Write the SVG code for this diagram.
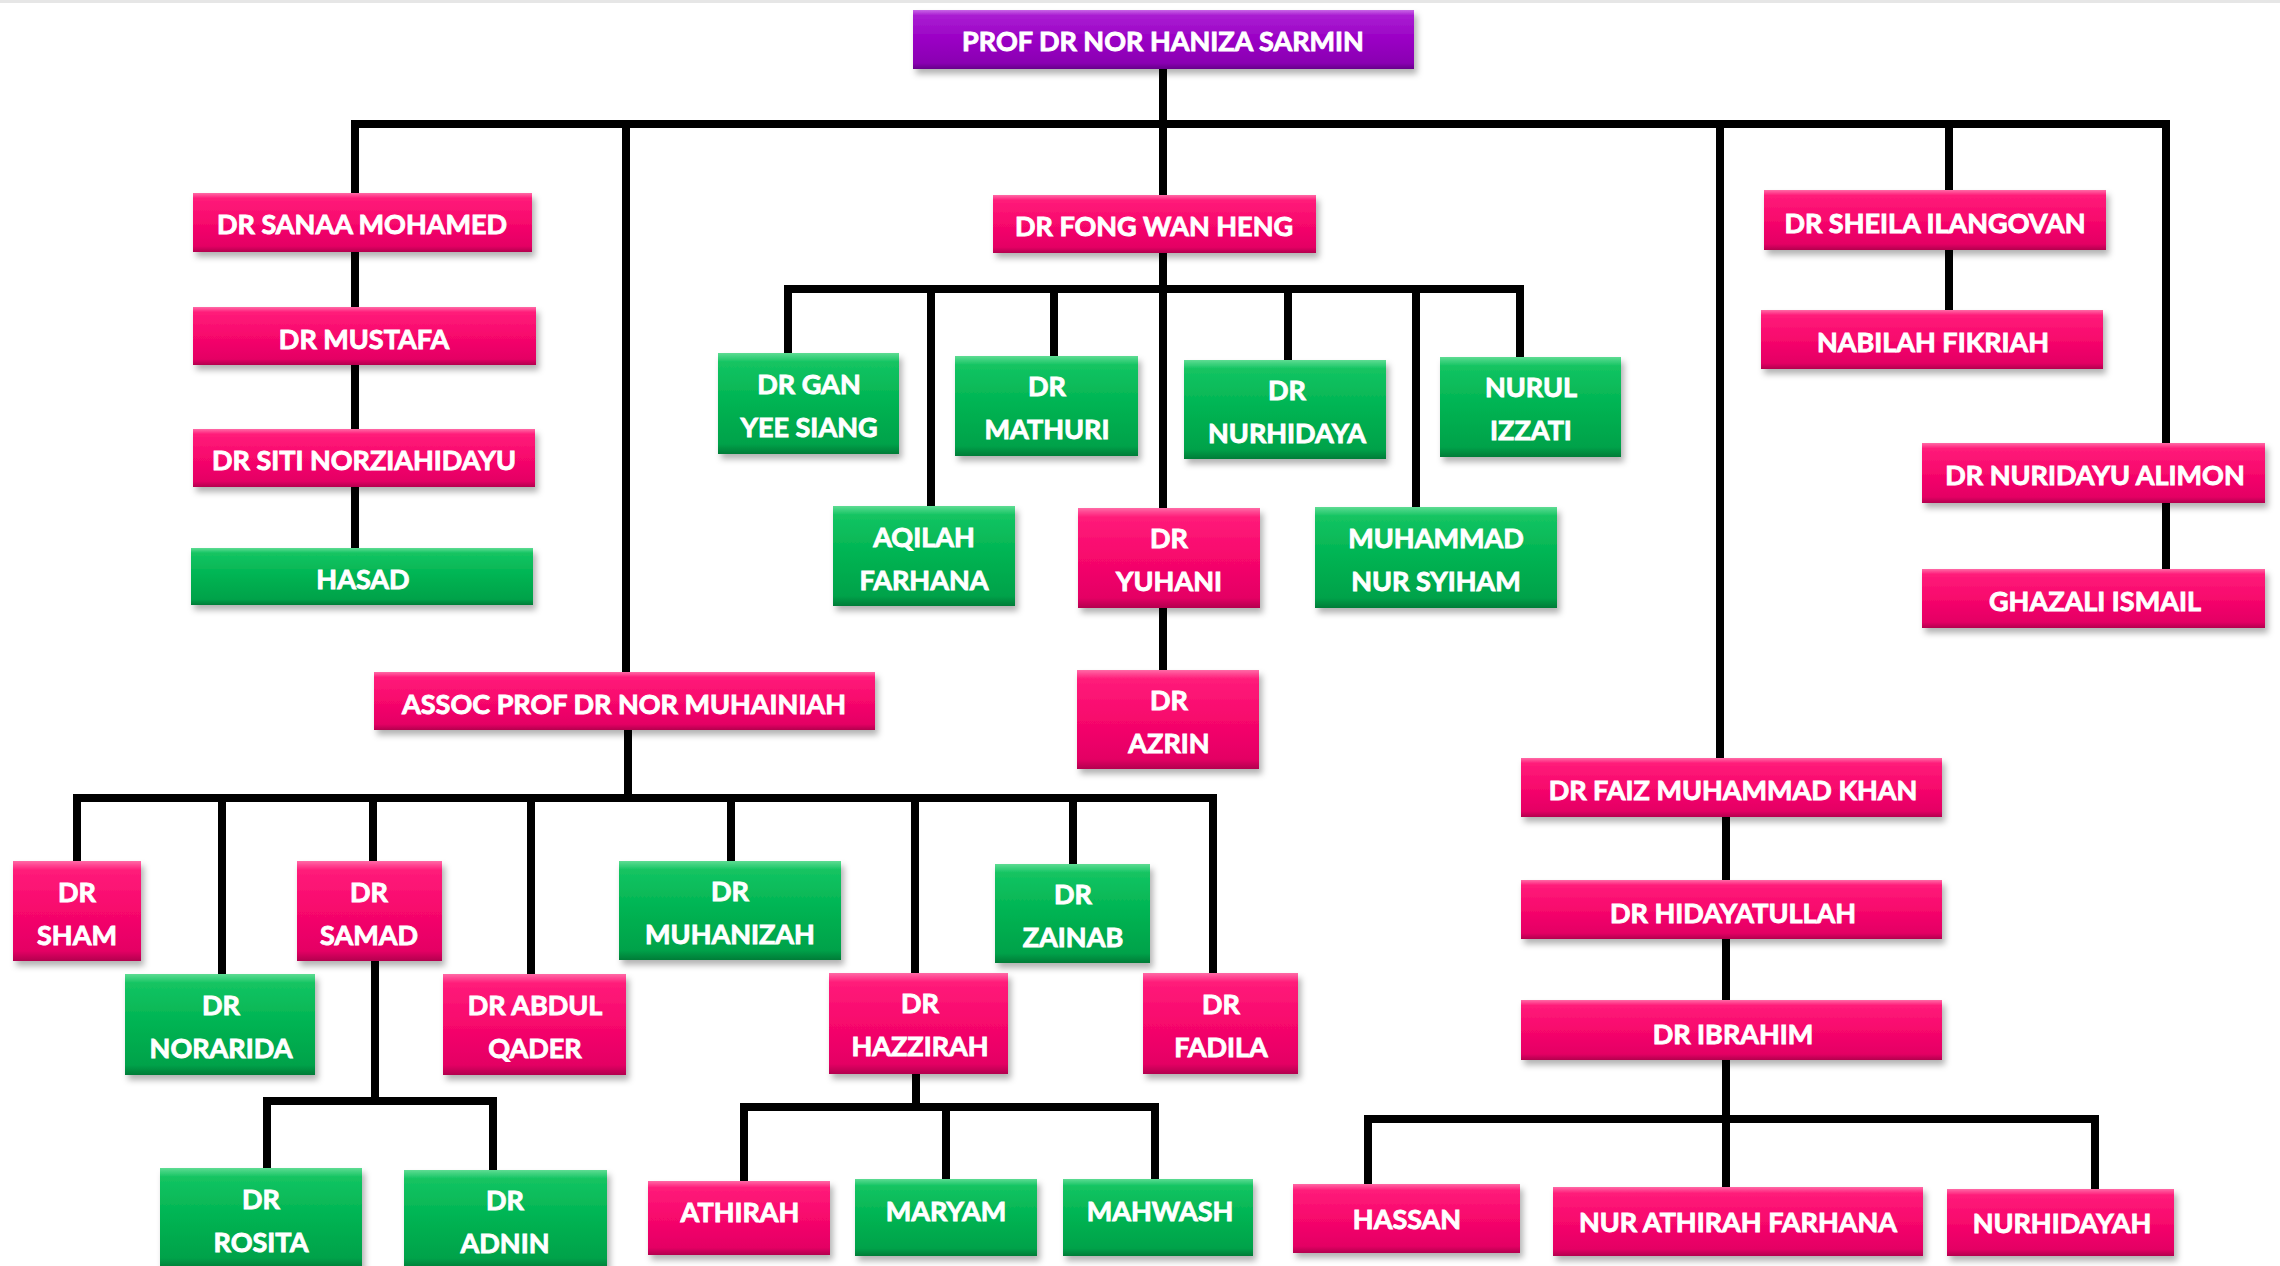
<svg xmlns="http://www.w3.org/2000/svg" width="2280" height="1266" viewBox="0 0 2280 1266">
<defs>
<linearGradient id="gPink" x1="0" y1="0" x2="0" y2="1">
<stop offset="0" stop-color="#ff6aa6"/><stop offset="0.09" stop-color="#ff1c7a"/><stop offset="0.5" stop-color="#f7076c"/><stop offset="0.9" stop-color="#e40064"/><stop offset="1" stop-color="#b3004e"/>
</linearGradient>
<linearGradient id="gGreen" x1="0" y1="0" x2="0" y2="1">
<stop offset="0" stop-color="#5edc93"/><stop offset="0.09" stop-color="#14c462"/><stop offset="0.5" stop-color="#00b352"/><stop offset="0.9" stop-color="#00a24a"/><stop offset="1" stop-color="#007c37"/>
</linearGradient>
<linearGradient id="gPurple" x1="0" y1="0" x2="0" y2="1">
<stop offset="0" stop-color="#c866e6"/><stop offset="0.09" stop-color="#aa1ed2"/><stop offset="0.5" stop-color="#9a00c4"/><stop offset="0.9" stop-color="#8a00b2"/><stop offset="1" stop-color="#66008a"/>
</linearGradient>
<filter id="sh" x="-10%" y="-20%" width="120%" height="160%">
<feDropShadow dx="3" dy="5" stdDeviation="3" flood-color="#000" flood-opacity="0.3"/>
</filter>
</defs>
<style>
.pink{fill:url(#gPink);filter:url(#sh)}
.green{fill:url(#gGreen);filter:url(#sh)}
.purple{fill:url(#gPurple);filter:url(#sh)}
.t{font-family:Lato,"Liberation Sans",sans-serif;font-weight:bold;font-size:27px;fill:#fff;stroke:#fff;stroke-width:0.9px;text-anchor:middle}
.s{transform:translateY(2px)}
</style>
<rect x="0" y="0" width="2280" height="1266" fill="#ffffff"/>
<rect x="0" y="0" width="2280" height="3" fill="#e6e6e6"/>

<g id="connectors" fill="none" stroke="#000" stroke-width="8">
<path d="M1163,68 V195"/>
<path d="M355,193 V124 H2166 V443"/>
<path d="M626,124 V672"/>
<path d="M1720,124 V758"/>
<path d="M1949,124 V190"/>
<path d="M1949,250 V310"/>
<path d="M2166,503 V569"/>
<path d="M355,252 V307 M355,365 V429 M355,487 V548"/>
<path d="M1163,253 V508"/>
<path d="M1163,608 V670"/>
<path d="M788,353 V289 H1520 V357"/>
<path d="M931,289 V506 M1054,289 V356 M1288,289 V360 M1416,289 V507"/>
<path d="M628,730 V798"/>
<path d="M77,861 V798 H1213 V973"/>
<path d="M222,798 V974 M373,798 V861 M531,798 V974 M731,798 V861 M915,798 V973 M1073,798 V864"/>
<path d="M375,961 V1101"/>
<path d="M267,1168 V1101 H493 V1170"/>
<path d="M916,1073 V1107"/>
<path d="M744,1181 V1107 H1155 V1179 M946,1107 V1179"/>
<path d="M1726,817 V880 M1726,939 V1000 M1726,1060 V1187"/>
<path d="M1368,1184 V1119 H2095 V1189"/>
</g>

<g id="root"><rect class="purple" x="913" y="10" width="501" height="59"/><text class="t" x="1163" y="51">PROF DR NOR HANIZA SARMIN</text></g>

<g id="sanaa"><rect class="pink" x="193" y="193" width="339" height="59"/><text class="t" x="362" y="234">DR SANAA MOHAMED</text></g>
<g id="mustafa"><rect class="pink" x="193" y="307" width="343" height="58"/><text class="t" x="364" y="349">DR MUSTAFA</text></g>
<g id="siti"><rect class="pink" x="193" y="429" width="342" height="58"/><text class="t" x="364" y="470">DR SITI NORZIAHIDAYU</text></g>
<g id="hasad"><rect class="green" x="191" y="548" width="342" height="57"/><text class="t" x="363" y="589">HASAD</text></g>

<g id="fong"><rect class="pink" x="993" y="195" width="323" height="58"/><text class="t" x="1154" y="236">DR FONG WAN HENG</text></g>
<g id="gan"><rect class="green" x="718" y="353" width="181" height="101"/><text class="t" x="809" y="394">DR GAN</text><text class="t" x="809" y="437">YEE SIANG</text></g>
<g id="mathuri"><rect class="green" x="955" y="356" width="183" height="100"/><text class="t" x="1047" y="396">DR</text><text class="t" x="1047" y="439">MATHURI</text></g>
<g id="nurhidaya"><rect class="green" x="1184" y="360" width="202" height="99"/><text class="t" x="1287" y="400">DR</text><text class="t" x="1287" y="443">NURHIDAYA</text></g>
<g id="nurul"><rect class="green" x="1440" y="357" width="181" height="100"/><text class="t" x="1531" y="397">NURUL</text><text class="t" x="1531" y="440">IZZATI</text></g>
<g id="aqilah"><rect class="green" x="833" y="506" width="182" height="100"/><text class="t" x="924" y="547">AQILAH</text><text class="t" x="924" y="590">FARHANA</text></g>
<g id="yuhani"><rect class="pink" x="1078" y="508" width="182" height="100"/><text class="t" x="1169" y="548">DR</text><text class="t" x="1169" y="591">YUHANI</text></g>
<g id="muhammad"><rect class="green" x="1315" y="507" width="242" height="101"/><text class="t" x="1436" y="548">MUHAMMAD</text><text class="t" x="1436" y="591">NUR SYIHAM</text></g>
<g id="azrin"><rect class="pink" x="1077" y="670" width="182" height="99"/><text class="t" x="1169" y="710">DR</text><text class="t" x="1169" y="753">AZRIN</text></g>

<g id="sheila"><rect class="pink" x="1764" y="190" width="342" height="60"/><text class="t" x="1935" y="233">DR SHEILA ILANGOVAN</text></g>
<g id="nabilah"><rect class="pink" x="1761" y="310" width="342" height="59"/><text class="t" x="1933" y="352">NABILAH FIKRIAH</text></g>
<g id="nuridayu"><rect class="pink" x="1922" y="443" width="343" height="60"/><text class="t" x="2095" y="485">DR NURIDAYU ALIMON</text></g>
<g id="ghazali"><rect class="pink" x="1922" y="569" width="343" height="59"/><text class="t" x="2095" y="611">GHAZALI ISMAIL</text></g>

<g id="faiz"><rect class="pink" x="1521" y="758" width="421" height="59"/><text class="t" x="1733" y="800">DR FAIZ MUHAMMAD KHAN</text></g>
<g id="hidayatullah"><rect class="pink" x="1521" y="880" width="421" height="59"/><text class="t" x="1733" y="923">DR HIDAYATULLAH</text></g>
<g id="ibrahim"><rect class="pink" x="1521" y="1000" width="421" height="60"/><text class="t" x="1733" y="1044">DR IBRAHIM</text></g>
<g id="hassan"><rect class="pink" x="1293" y="1184" width="227" height="69"/><text class="t" x="1407" y="1229">HASSAN</text></g>
<g id="nurathirah"><rect class="pink" x="1553" y="1187" width="370" height="69"/><text class="t" x="1738" y="1232">NUR ATHIRAH FARHANA</text></g>
<g id="nurhidayah"><rect class="pink" x="1947" y="1189" width="227" height="67"/><text class="t" x="2062" y="1233">NURHIDAYAH</text></g>

<g id="muhainiah"><rect class="pink" x="374" y="672" width="501" height="58"/><text class="t" x="624" y="714">ASSOC PROF DR NOR MUHAINIAH</text></g>
<g id="sham"><rect class="pink" x="13" y="861" width="128" height="100"/><text class="t" x="77" y="902">DR</text><text class="t" x="77" y="945">SHAM</text></g>
<g id="samad"><rect class="pink" x="297" y="861" width="145" height="100"/><text class="t" x="369" y="902">DR</text><text class="t" x="369" y="945">SAMAD</text></g>
<g id="norarida"><rect class="green" x="125" y="974" width="190" height="101"/><text class="t" x="221" y="1015">DR</text><text class="t" x="221" y="1058">NORARIDA</text></g>
<g id="abdul"><rect class="pink" x="443" y="974" width="183" height="101"/><text class="t" x="535" y="1015">DR ABDUL</text><text class="t" x="535" y="1058">QADER</text></g>
<g id="muhanizah"><rect class="green" x="619" y="861" width="222" height="99"/><text class="t" x="730" y="901">DR</text><text class="t" x="730" y="944">MUHANIZAH</text></g>
<g id="zainab"><rect class="green" x="995" y="864" width="155" height="99"/><text class="t" x="1073" y="904">DR</text><text class="t" x="1073" y="947">ZAINAB</text></g>
<g id="hazzirah"><rect class="pink" x="829" y="973" width="179" height="101"/><text class="t" x="920" y="1013">DR</text><text class="t" x="920" y="1056">HAZZIRAH</text></g>
<g id="fadila"><rect class="pink" x="1143" y="973" width="155" height="101"/><text class="t" x="1221" y="1014">DR</text><text class="t" x="1221" y="1057">FADILA</text></g>
<g id="rosita"><rect class="green" x="160" y="1168" width="202" height="100"/><text class="t" x="261" y="1209">DR</text><text class="t" x="261" y="1252">ROSITA</text></g>
<g id="adnin"><rect class="green" x="404" y="1170" width="203" height="98"/><text class="t" x="505" y="1210">DR</text><text class="t" x="505" y="1253">ADNIN</text></g>
<g id="athirah"><rect class="pink" x="648" y="1181" width="182" height="74"/><text class="t" x="740" y="1222">ATHIRAH</text></g>
<g id="maryam"><rect class="green" x="855" y="1179" width="182" height="77"/><text class="t" x="946" y="1221">MARYAM</text></g>
<g id="mahwash"><rect class="green" x="1063" y="1179" width="190" height="77"/><text class="t" x="1160" y="1221">MAHWASH</text></g>
</svg>
